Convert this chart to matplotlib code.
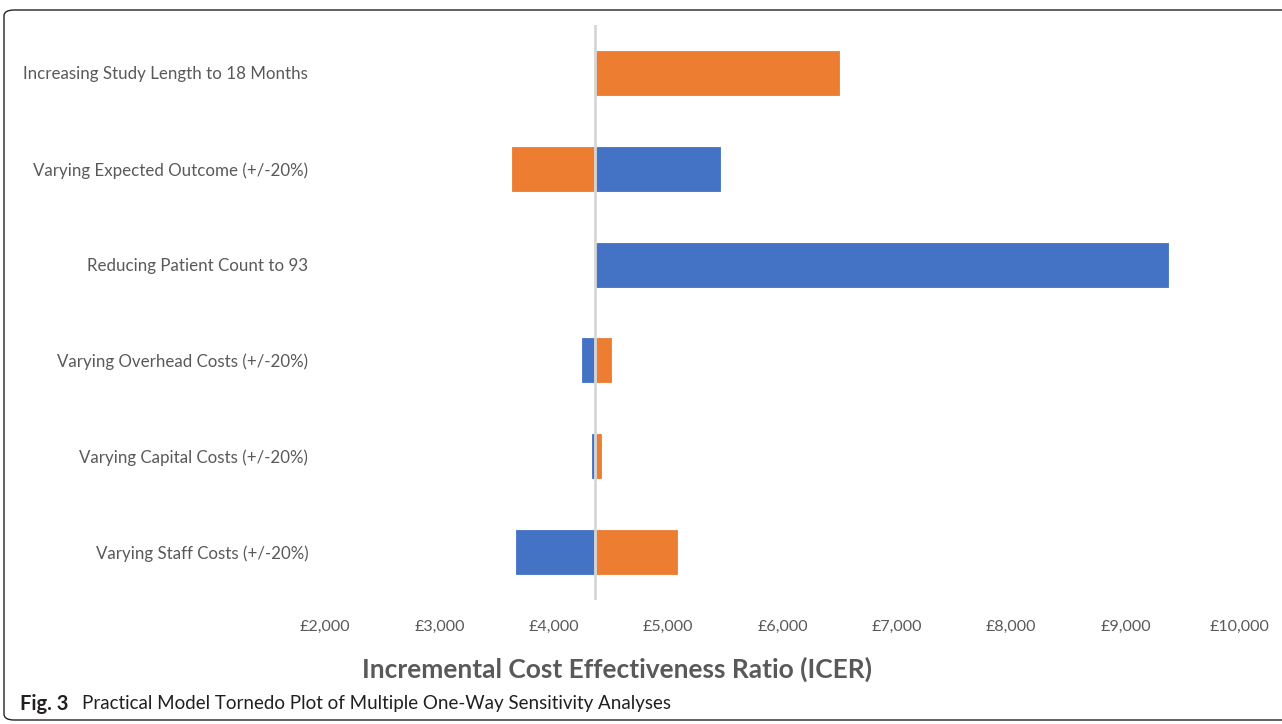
import matplotlib
matplotlib.use("Agg")
import matplotlib.pyplot as plt
from matplotlib.patches import FancyBboxPatch
from matplotlib.ticker import FuncFormatter

# Sensitivity cases, top to bottom
categories = [
    "Increasing Study Length to 18 Months",
    "Varying Expected Outcome (+/-20%)",
    "Reducing Patient Count to 93",
    "Varying Overhead Costs (+/-20%)",
    "Varying Capital Costs (+/-20%)",
    "Varying Staff Costs (+/-20%)",
]
base_icer = 4360
# ICER reached in each case (None = no bar for that series)
blue_values = [None, 5453, 9369, 4246, 4334, 3674]
orange_values = [6493, 3637, None, 4500, 4413, 5077]
xticks = [2000, 3000, 4000, 5000, 6000, 7000, 8000, 9000, 10000]

BLUE = "#4472C4"
ORANGE = "#ED7D31"
TEXT = "#595959"

plt.rcParams['font.family'] = ['Lato', 'DejaVu Sans']

fig = plt.figure(figsize=(12.82, 7.24), dpi=100)
W, H = 1282, 724
ax = fig.add_axes([325 / W, 1 - 600 / H, (1240 - 325) / W, (600 - 25) / H])

ypos = list(range(len(categories)))
for vals, col in [(blue_values, BLUE), (orange_values, ORANGE)]:
    for y, v in zip(ypos, vals):
        if v is None:
            continue
        ax.barh(y, v - base_icer, left=base_icer, height=0.46, color=col,
                edgecolor=col, linewidth=0.6, zorder=2)

ax.axvline(base_icer, color="#D6D6D6", linewidth=2, zorder=3)

ax.set_xlim(xticks[0], xticks[-1])
ax.set_ylim(len(categories) - 0.5, -0.5)
ax.set_xticks(xticks)
ax.xaxis.set_major_formatter(FuncFormatter(lambda v, p: "\u00a3{:,.0f}".format(v)))
ax.tick_params(axis="x", length=0, pad=14, labelsize=11.5, labelcolor=TEXT)
ax.set_yticks(ypos)
ax.set_yticklabels(categories)
ax.tick_params(axis="y", length=0, pad=12, labelsize=12.2, labelcolor=TEXT)
for s in ax.spines.values():
    s.set_visible(False)

fig.text(617 / W, 1 - 669 / H, "Incremental Cost Effectiveness Ratio (ICER)",
         ha="center", va="center", fontsize=19, fontweight="bold", color=TEXT)

# caption
fig.text(20 / W, 1 - 704 / H, "Fig. 3", ha="left", va="center",
         fontsize=14.5, fontweight="bold", color="#231F20")
fig.text(82 / W, 1 - 704 / H,
         "Practical Model Tornedo Plot of Multiple One-Way Sensitivity Analyses",
         ha="left", va="center", fontsize=13.5, color="#231F20")

# frame around the figure
frame = FancyBboxPatch((4 / W, 1 - 720 / H), 1.05, (720 - 10) / H,
                       boxstyle="round,pad=0,rounding_size=0.008",
                       transform=fig.transFigure, fill=False,
                       edgecolor="#222222", linewidth=1.0)
fig.patches.append(frame)

fig.savefig("out.png", dpi=100)
